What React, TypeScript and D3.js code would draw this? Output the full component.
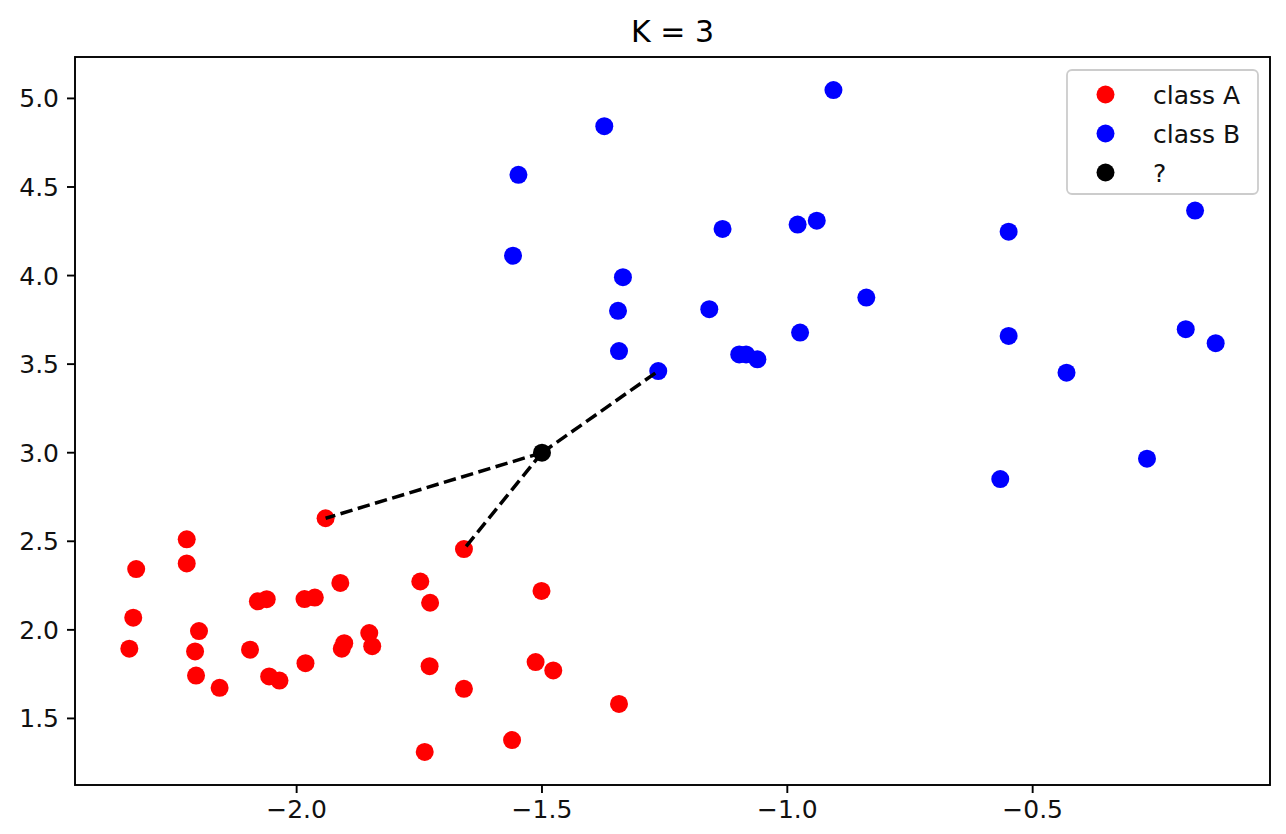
import React from "react";
import * as d3 from "d3";

const classAX = [-2.341, -2.333, -2.327, -2.224, -2.224, -2.199, -2.207, -2.205, -2.157, -2.095, -2.079, -2.061, -2.056, -2.035, -1.984, -1.963, -1.982, -1.941, -1.911, -1.908, -1.903, -1.852, -1.846, -1.748, -1.728, -1.729, -1.739, -1.659, -1.659, -1.561, -1.501, -1.513, -1.477, -1.343];
const classAY = [1.894, 2.069, 2.343, 2.511, 2.375, 1.993, 1.878, 1.742, 1.673, 1.888, 2.161, 2.173, 1.737, 1.714, 2.174, 2.182, 1.812, 2.630, 2.265, 1.894, 1.925, 1.982, 1.908, 2.273, 2.153, 1.795, 1.311, 2.456, 1.667, 1.378, 2.220, 1.818, 1.771, 1.582];
const classBX = [-0.906, -1.373, -1.548, -1.559, -1.132, -0.979, -0.940, -1.335, -1.345, -1.343, -1.263, -1.159, -1.098, -1.084, -1.061, -0.974, -0.839, -0.549, -0.169, -0.549, -0.188, -0.127, -0.431, -0.267, -0.566];
const classBY = [5.047, 4.843, 4.569, 4.112, 4.263, 4.288, 4.310, 3.991, 3.801, 3.574, 3.461, 3.810, 3.555, 3.555, 3.527, 3.678, 3.876, 4.248, 4.367, 3.659, 3.697, 3.618, 3.452, 2.966, 2.851];
const queryPoint = [-1.5, 3.0];
const K = 3;
const xTicks = [-2.0, -1.5, -1.0, -0.5];
const yTicks = [1.5, 2.0, 2.5, 3.0, 3.5, 4.0, 4.5, 5.0];
const legendLabels = ["class A", "class B", "?"];
const legendColors = ["#ff0000", "#0000ff", "#000000"];

const W = 1286;
const H = 834;
const box = { left: 75, right: 1270, top: 57, bottom: 785 };
const FONT = "DejaVu Sans, sans-serif";
const R = 9;
const TICK_FS = 25;

function fmt(v: number) {
  const s = Math.abs(v).toFixed(1);
  return v < 0 ? "\u2212" + s : s;
}

export default function App() {
  const allX = [...classAX, ...classBX, queryPoint[0]];
  const allY = [...classAY, ...classBY, queryPoint[1]];
  const [x0, x1] = d3.extent(allX) as [number, number];
  const [y0, y1] = d3.extent(allY) as [number, number];
  const mx = (x1 - x0) * 0.05;
  const my = (y1 - y0) * 0.05;
  const xs = d3.scaleLinear().domain([x0 - mx, x1 + mx]).range([box.left, box.right]);
  const ys = d3.scaleLinear().domain([y0 - my, y1 + my]).range([box.bottom, box.top]);

  const A = classAX.map((x, i) => ({ x, y: classAY[i] }));
  const B = classBX.map((x, i) => ({ x, y: classBY[i] }));
  const all = [...A, ...B];
  const neighbors = all
    .map((p) => ({ ...p, d: Math.hypot(p.x - queryPoint[0], p.y - queryPoint[1]) }))
    .sort((a, b) => a.d - b.d)
    .slice(0, K);

  const line = d3.line<{ x: number; y: number }>().x((d) => xs(d.x)).y((d) => ys(d.y));

  return (
    <svg width={W} height={H} style={{ position: "absolute", left: 0, top: 0, background: "#fff" }} fontFamily={FONT}>
      <rect x={0} y={0} width={W} height={H} fill="#fff" />
      {A.map((p, i) => (
        <circle key={"a" + i} cx={xs(p.x)} cy={ys(p.y)} r={R} fill="#ff0000" />
      ))}
      {B.map((p, i) => (
        <circle key={"b" + i} cx={xs(p.x)} cy={ys(p.y)} r={R} fill="#0000ff" />
      ))}
      <circle cx={xs(queryPoint[0])} cy={ys(queryPoint[1])} r={R} fill="#000" />
      {neighbors.map((n, i) => (
        <path
          key={"n" + i}
          d={line([{ x: queryPoint[0], y: queryPoint[1] }, n]) as string}
          fill="none"
          stroke="#000"
          strokeWidth={3.5}
          strokeDasharray="12.5 5.5"
        />
      ))}
      <rect
        x={box.left}
        y={box.top}
        width={box.right - box.left}
        height={box.bottom - box.top}
        fill="none"
        stroke="#000"
        strokeWidth={1.9}
      />
      {xTicks.map((t) => (
        <g key={"xt" + t}>
          <line x1={xs(t)} x2={xs(t)} y1={box.bottom} y2={box.bottom + 8} stroke="#000" strokeWidth={1.9} />
          <text x={xs(t)} y={box.bottom + 33} fontSize={TICK_FS} textAnchor="middle" fill="#111">
            {fmt(t)}
          </text>
        </g>
      ))}
      {yTicks.map((t) => (
        <g key={"yt" + t}>
          <line x1={box.left - 8} x2={box.left} y1={ys(t)} y2={ys(t)} stroke="#000" strokeWidth={1.9} />
          <text x={box.left - 16} y={ys(t)} dy="0.36em" fontSize={TICK_FS} textAnchor="end" fill="#111">
            {fmt(t)}
          </text>
        </g>
      ))}
      <text x={(box.left + box.right) / 2} y={42} fontSize={30} textAnchor="middle" fill="#000">
        K = 3
      </text>
      <g>
        <rect x={1067} y={70} width={191} height={124} rx={5} fill="#fff" fillOpacity={0.8} stroke="#cccccc" strokeWidth={1.8} />
        {legendLabels.map((l, i) => (
          <g key={"lg" + i}>
            <circle cx={1105.5} cy={94.5 + i * 39} r={R} fill={legendColors[i]} />
            <text x={1153} y={94.5 + i * 39} dy="0.36em" fontSize={TICK_FS} fill="#111">
              {l}
            </text>
          </g>
        ))}
      </g>
    </svg>
  );
}
